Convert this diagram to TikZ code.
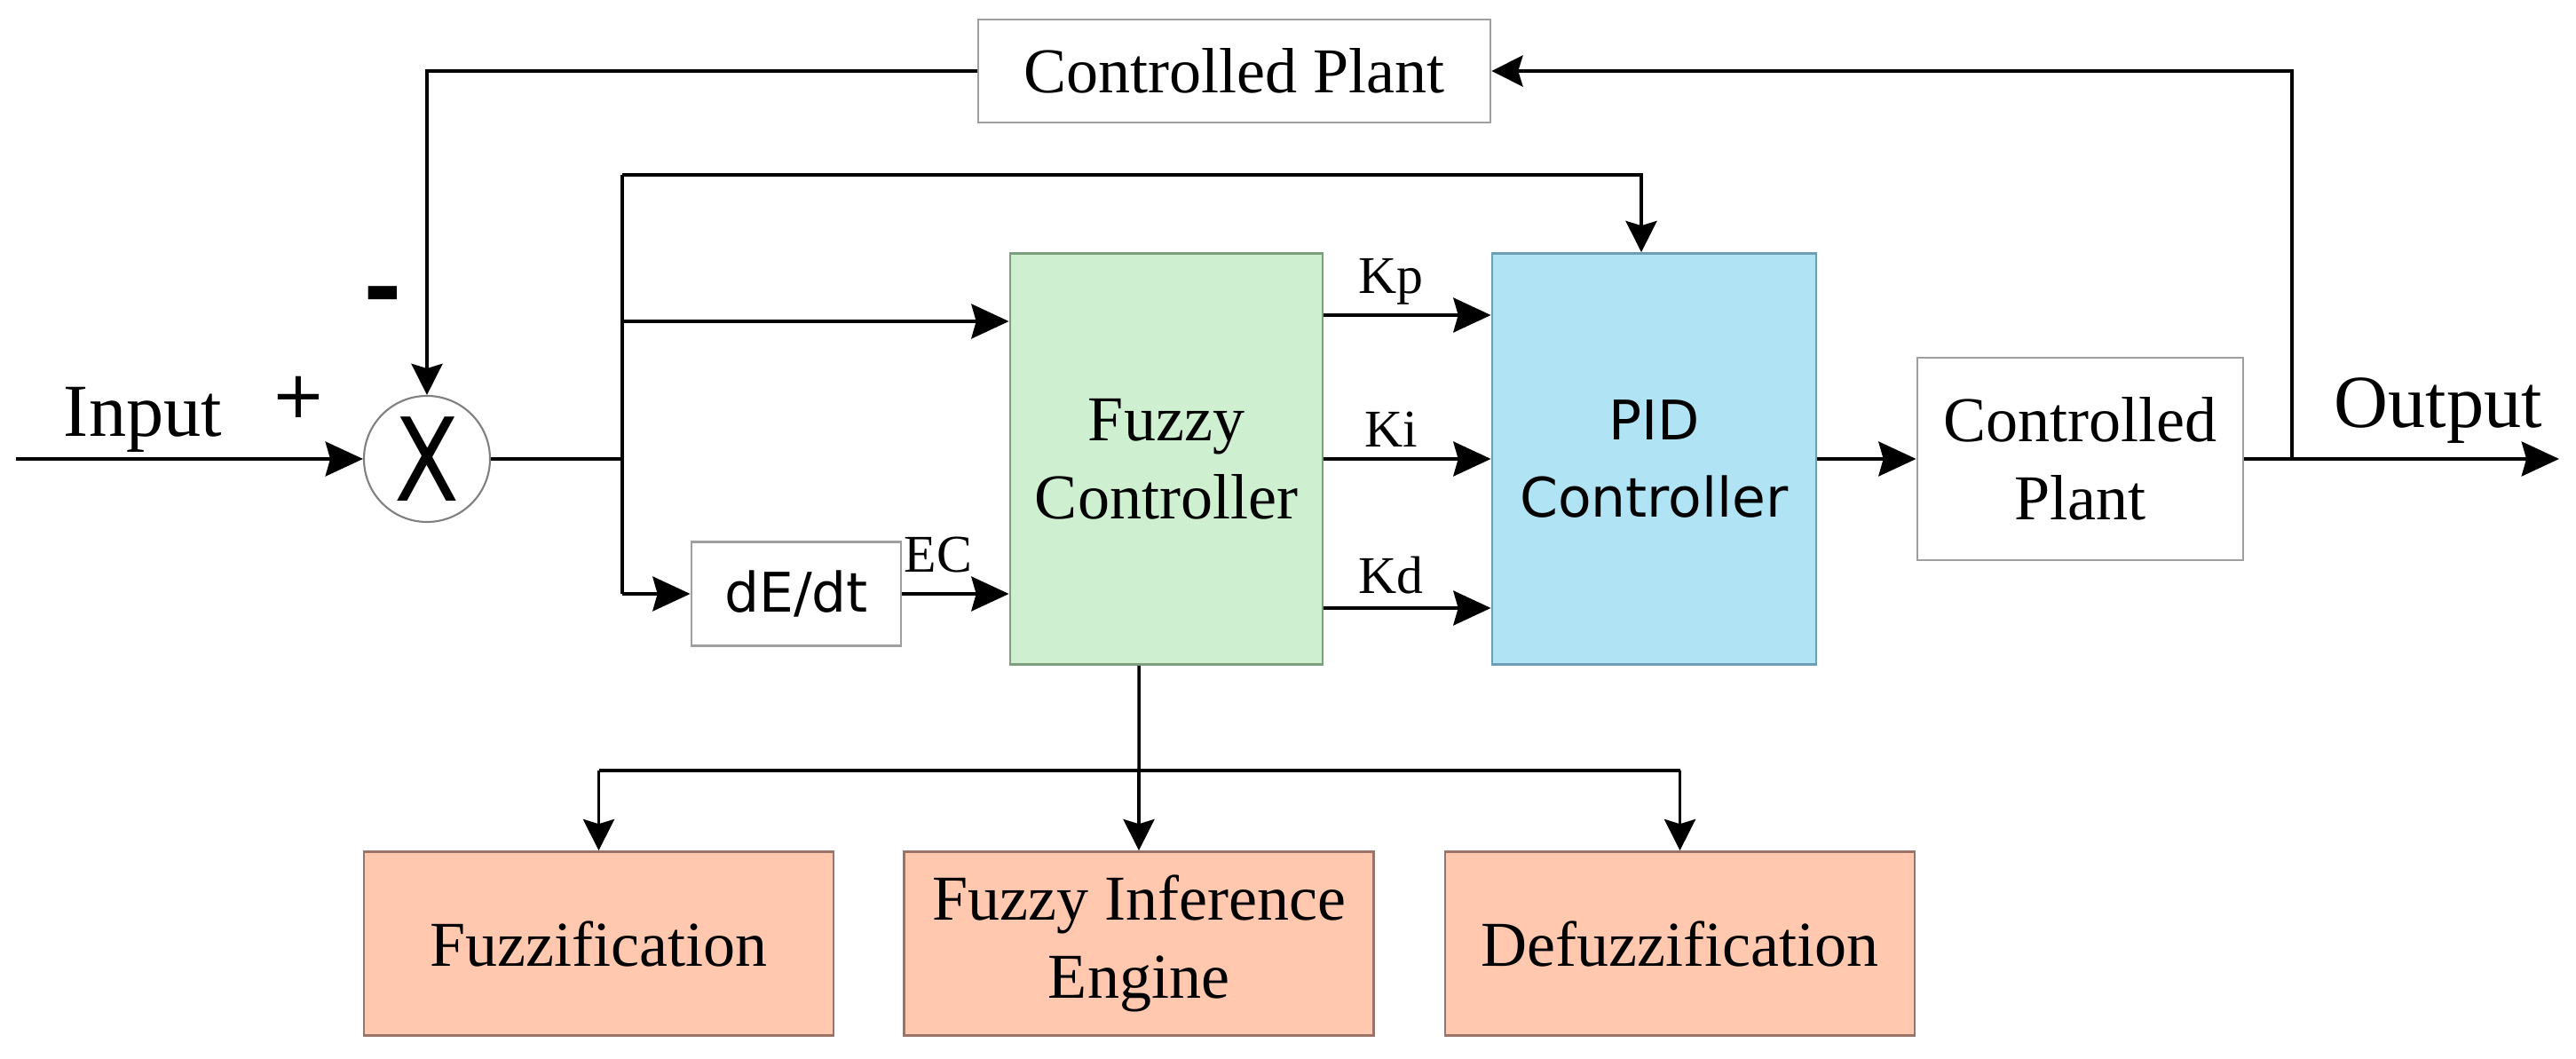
\documentclass[tikz,border=0pt]{standalone}
\usepackage{fontspec}
\setmainfont{Liberation Serif}
\newfontfamily\sansfont{DejaVu Sans}
\usetikzlibrary{arrows.meta,positioning}

\definecolor{fuzzygreen}{HTML}{CEF0D0}
\definecolor{fuzzyedge}{HTML}{7E9E80}
\definecolor{pidblue}{HTML}{B0E4F4}
\definecolor{pidedge}{HTML}{6E9EB4}
\definecolor{stagepeach}{HTML}{FFC8AF}
\definecolor{stageedge}{HTML}{9A7468}

\begin{document}
\begin{tikzpicture}[
  blockbox/.style={draw=gray!75, line width=0.8pt, align=center, inner sep=0pt,
                   font=\fontsize{20.5}{25}\selectfont},
  stagebox/.style={blockbox, draw=stageedge, fill=stagepeach,
                   minimum width=5.29cm, minimum height=2.07cm},
  sig/.style={line width=1.4pt, -{Stealth[length=12pt, width=11pt, inset=1.5pt]}},
  wire/.style={line width=1.0pt},
  wirearrow/.style={line width=1.0pt, -{Stealth[length=10pt, width=10pt, inset=1.5pt]}},
  gainlabel/.style={anchor=base, font=\fontsize{17}{17}\selectfont},
]
\useasboundingbox (0,0) rectangle (29.02,11.92);

% Summing junction and input
\node[circle, draw=gray, line width=0.6pt, minimum size=1.42cm, inner sep=0pt] (sum) at (4.81,6.75)
    {\sansfont\fontsize{37}{37}\selectfont\scalebox{0.82}[1]{X}};
\coordinate (inlet) at (0.18,6.75);
\draw[sig] (inlet) -- (sum.west);
\node[anchor=base, font=\fontsize{24}{24}\selectfont] (inlabel) at (1.61,7.00) {Input};
\node[font=\sansfont\fontsize{21}{21}\selectfont] (plus) at (3.36,7.45) {+};
\node[font=\sansfont\bfseries\fontsize{30}{30}\selectfont] (minus) at (4.31,8.50) {-};

% Main blocks
\node[blockbox, minimum width=5.77cm, minimum height=1.16cm] (plantfb) at (13.905,11.12) {Controlled Plant};
\node[blockbox, font=\sansfont\fontsize{17.5}{20}\selectfont, minimum width=2.36cm, minimum height=1.17cm]
    (deriv) at (8.97,5.23) {dE/dt};
\node[blockbox, draw=fuzzyedge, fill=fuzzygreen, minimum width=3.52cm, minimum height=4.63cm]
    (fuzzy) at (13.14,6.75) {Fuzzy\\Controller};
\node[blockbox, draw=pidedge, fill=pidblue, font=\sansfont\fontsize{17.5}{25}\selectfont,
      minimum width=3.65cm, minimum height=4.63cm] (pid) at (18.635,6.75) {PID\\Controller};
\node[blockbox, minimum width=3.67cm, minimum height=2.28cm] (plant) at (23.435,6.75) {Controlled\\Plant};

% Error branches
\coordinate (split) at (7.01,6.75);
\coordinate (bup) at (7.01,9.95);
\coordinate (bmid) at (7.01,8.30);
\coordinate (blow) at (7.01,5.23);
\draw[wire] (sum.east) -- (split);
\draw[wire] (bup) -- (blow);
\draw[wirearrow] (bup) -| ([xshift=-1.45mm]pid.north);
\draw[sig] (bmid) -- (bmid -| fuzzy.west);
\draw[sig] (blow) -- (deriv.west);
\draw[sig] (deriv.east) -- (deriv.east -| fuzzy.west);
\node[gainlabel] (eclabel) at (10.57,5.47) {EC};

% Gains
\draw[sig] ([yshift=1.62cm]fuzzy.east) -- ([yshift=1.62cm]pid.west);
\draw[sig] (fuzzy.east) -- (pid.west);
\draw[sig] ([yshift=-1.68cm]fuzzy.east) -- ([yshift=-1.68cm]pid.west);
\node[gainlabel] (kp) at (15.67,8.61) {Kp};
\node[gainlabel] (ki) at (15.67,6.88) {Ki};
\node[gainlabel] (kd) at (15.67,5.23) {Kd};

% Plant and output
\coordinate (outend) at (28.83,6.75);
\coordinate (tap) at (25.82,6.75);
\draw[sig] (pid.east) -- (plant.west);
\draw[sig] (plant.east) -- (outend);
\node[anchor=base, font=\fontsize{24}{24}\selectfont] (outlabel) at (27.47,7.10) {Output};

% Feedback loop
\draw[wirearrow] (tap) |- (plantfb.east);
\draw[wirearrow] (plantfb.west) -| (sum.north);

% --- Fuzzy controller stages ---
\node[stagebox] (stage1) at (6.745,1.29) {Fuzzification};
\node[stagebox] (stage2) at (12.83,1.29) {Fuzzy Inference\\Engine};
\node[stagebox] (stage3) at (18.925,1.29) {Defuzzification};
\coordinate (hub) at (12.83,3.24);
\draw[wire] ([xshift=-3.1mm]fuzzy.south) -- (hub);
\draw[wire] (stage1.north |- hub) -- (stage3.north |- hub);
\foreach \s in {stage1,stage2,stage3}
  \draw[wirearrow] (\s.north |- hub) -- (\s.north);
\end{tikzpicture}
\end{document}
